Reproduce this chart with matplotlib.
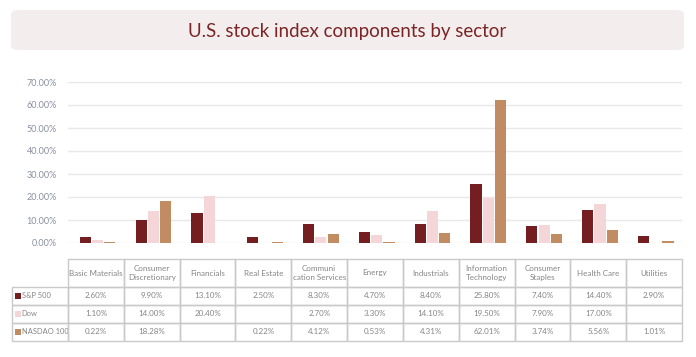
import matplotlib.pyplot as plt
import numpy as np
from matplotlib.patches import FancyBboxPatch, Rectangle

# data
sectors = ["Basic Materials", "Consumer\nDiscretionary", "Financials", "Real Estate",
           "Communi\ncation Services", "Energy", "Industrials", "Information\nTechnology",
           "Consumer\nStaples", "Health Care", "Utilities"]
series_names = ["S&P 500", "Dow", "NASDAO 100"]
sp500 = [2.60, 9.90, 13.10, 2.50, 8.30, 4.70, 8.40, 25.80, 7.40, 14.40, 2.90]
dow = [1.10, 14.00, 20.40, None, 2.70, 3.30, 14.10, 19.50, 7.90, 17.00, None]
nasdaq = [0.22, 18.28, None, 0.22, 4.12, 0.53, 4.31, 62.01, 3.74, 5.56, 1.01]
yticks = [0, 10, 20, 30, 40, 50, 60, 70]

colors = ["#741e21", "#f5d6d8", "#c18c62"]
title_color = "#7a2526"
text_gray = "#858585"
tick_color = "#8a90a2"
edge_gray = "#c9c9c9"

plt.rcParams['font.family'] = ['Lato', 'DejaVu Sans']

W, H = 696, 357
fig = plt.figure(figsize=(W / 100, H / 100), dpi=100)


def fbox(x0, y0, x1, y1):
    # pixel box (top-left origin) -> figure fraction rect
    return [x0 / W, 1 - y1 / H, (x1 - x0) / W, (y1 - y0) / H]


# title banner
fig.patches.append(FancyBboxPatch((11 / W, 1 - 50 / H), (684 - 11) / W, 40 / H,
                                  boxstyle="round,pad=0,rounding_size=0.012",
                                  transform=fig.transFigure, facecolor="#f3eded",
                                  edgecolor="none"))
fig.text(347 / W, 1 - 31 / H, "U.S. stock index components by sector", ha="center",
         va="center", fontsize=13.5, color=title_color)

# bars
ax = fig.add_axes(fbox(68, 82, 682, 243))
x = np.arange(len(sectors))
offsets = [-0.22, 0.0, 0.22]
width = 0.2
for vals, off, c in zip([sp500, dow, nasdaq], offsets, colors):
    h = [v if v is not None else 0 for v in vals]
    ax.bar(x + off + 0.03, h, width=width, color=c, zorder=3)
ax.set_xlim(-0.5, len(sectors) - 0.5)
ax.set_ylim(0, 70)
ax.set_yticks(yticks)
ax.set_yticklabels([f"{t:.2f}%" for t in yticks], fontsize=6.5, color=tick_color)
ax.tick_params(axis="y", length=0, pad=8)
ax.set_xticks([])
ax.grid(axis="y", color="#e8e8e8", linewidth=1.0, zorder=0)
for s in ax.spines.values():
    s.set_visible(False)

# data table
tax = fig.add_axes(fbox(12, 259, 682, 341))
tax.axis("off")


def fmt(v):
    return "" if v is None else f"{v:.2f}%"


cell_text = [[""] + sectors]
for name, vals in zip(series_names, [sp500, dow, nasdaq]):
    cell_text.append([name] + [fmt(v) for v in vals])

tbl = tax.table(cellText=cell_text, bbox=[0, 0, 1, 1], cellLoc="center")
tbl.auto_set_font_size(False)
first_w = 56
col_w = 614 / len(sectors)
for (r, c), cell in tbl.get_celld().items():
    cell.set_height(28 if r == 0 else 18)
    cell.set_width(first_w if c == 0 else col_w)
    cell.set_edgecolor(edge_gray)
    cell.set_facecolor("none")
    cell.set_linewidth(1.0)
    cell.get_text().set_fontsize(5.8)
    cell.get_text().set_color(text_gray)
    if r == 0 and c == 0:
        cell.visible_edges = ""
    if c == 0 and r > 0:
        cell.get_text().set_ha("left")
        cell.get_text().set_fontsize(5.4)
        cell.PAD = 0.175

# legend squares in row headers
for i, c in enumerate(colors):
    yc = 1 - (28 + 18 * i + 9) / 82
    tax.add_patch(Rectangle((2.5 / 670, yc - 3 / 82), 6 / 670, 6 / 82,
                            transform=tax.transAxes, facecolor=c, edgecolor="none",
                            zorder=5, clip_on=False))

fig.savefig("out.png", dpi=100)
